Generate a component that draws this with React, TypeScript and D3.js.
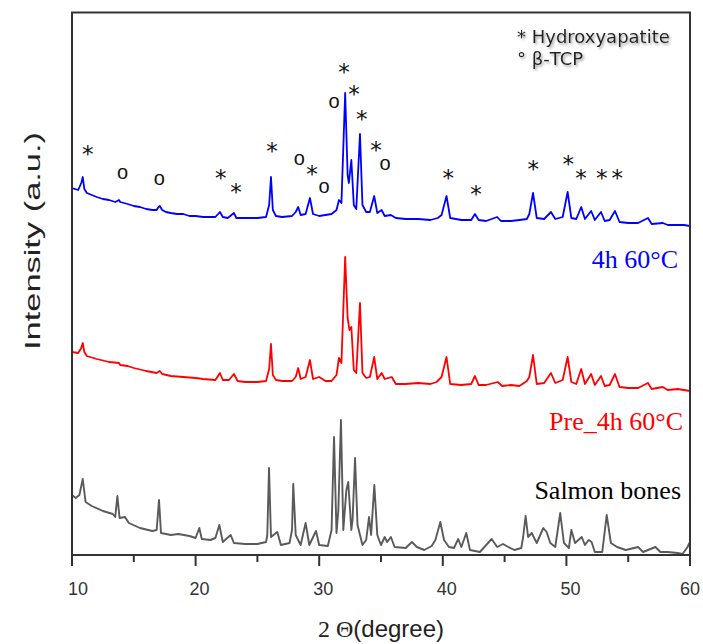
import React from "react";
import * as d3 from "d3";

// ---- data (2θ in degrees, intensity in a.u.) ----
const blueX = [10.0,10.5,10.75,10.87,11.0,11.2,11.6,12.0,12.5,13.0,13.5,13.8,13.9,14.5,15.0,15.5,16.0,16.5,16.85,17.0,17.1,17.3,17.6,18.0,18.5,19.0,19.5,20.0,20.6,21.0,21.6,21.97,22.2,22.6,23.1,23.3,24.0,25.0,25.7,25.95,26.1,26.25,26.5,27.0,27.8,28.1,28.3,28.5,28.9,29.25,29.5,30.0,30.5,31.0,31.4,31.6,31.8,32.1,32.3,32.4,32.6,32.8,33.0,33.3,33.5,33.8,34.1,34.45,34.7,35.05,35.3,35.8,36.2,37.0,38.0,39.0,39.6,39.9,40.3,40.6,41.5,42.3,42.6,42.9,43.5,44.4,44.7,45.5,46.2,46.8,47.0,47.3,47.6,48.2,48.75,49.1,49.7,50.1,50.4,50.8,51.2,51.5,52.0,52.3,52.8,53.1,53.5,53.93,54.3,55.0,55.8,56.6,56.9,57.8,58.2,59.0,59.5,60.0];
const blueY = [367,365,372,378,366,362,360,358,356,355,353,355,353,351,349,348,346,345,345,348,349,345,343,342,341,341,339,339,338,338,338,343,338,337,342,337,337,337,338,350,378,345,339,338,339,343,348,340,341,357,341,339,340,341,345,355,352,462,380,372,395,350,346,421,350,343,343,359,342,345,339,340,337,336,336,335,337,340,359,337,335,335,341,335,334,338,334,334,335,336,341,362,337,336,343,336,338,363,337,336,348,336,344,335,343,334,335,344,333,332,332,337,331,332,330,330,330,329];

const redX = [10.0,10.5,10.75,10.87,11.0,11.2,12.0,13.0,13.8,13.9,14.5,15.0,16.0,16.85,17.1,17.3,18.0,19.0,20.0,20.6,21.6,21.97,22.2,22.7,23.1,23.4,24.0,25.0,25.7,25.95,26.1,26.25,26.5,27.0,27.8,28.1,28.3,28.5,28.9,29.25,29.5,30.0,30.5,31.0,31.4,31.6,31.8,32.1,32.3,32.45,32.6,32.8,33.0,33.3,33.5,33.8,34.1,34.45,34.7,35.05,35.3,35.87,36.2,37.0,38.0,39.0,39.5,39.9,40.3,40.6,41.5,42.3,42.6,42.9,43.5,44.45,44.8,45.5,46.2,46.8,47.0,47.3,47.6,48.2,48.75,49.1,49.7,50.1,50.4,50.8,51.2,51.5,52.0,52.3,52.8,53.1,53.5,53.93,54.3,55.0,55.8,56.6,56.9,57.8,58.2,59.0,59.5,60.0];
const redY = [203,202,207,212,203,199,196,193,192,190,189,187,184,182,184,181,179,178,177,176,175,182,175,175,181,174,173,173,174,186,211,180,175,174,174,178,187,176,178,195,176,178,174,174,180,197,192,298,237,225,228,185,182,252,182,177,178,198,176,182,176,178,171,171,172,171,173,178,198,171,170,171,179,170,170,173,169,170,169,174,178,200,171,172,182,172,175,198,173,171,186,171,181,170,179,169,170,181,168,167,167,172,166,168,165,166,165,164];

const grayX = [10.0,10.3,10.6,10.87,11.1,11.6,12.5,13.3,13.5,13.67,13.85,14.29,14.6,15.5,16.5,16.85,17.04,17.2,18.0,18.6,19.5,20.0,20.3,20.5,21.2,21.6,21.92,22.2,22.84,23.1,24.0,25.0,25.7,25.8,25.94,26.1,26.61,26.9,27.6,27.8,27.9,28.1,28.5,28.9,29.2,29.74,30.0,30.7,31.0,31.2,31.4,31.55,31.76,31.95,32.2,32.35,32.6,32.7,32.9,33.1,33.5,33.8,34.03,34.2,34.46,34.7,35.0,35.3,35.5,35.8,36.1,37.0,37.5,37.9,38.5,39.1,39.4,39.8,40.1,40.5,40.9,41.25,41.5,41.9,42.2,43.0,43.95,44.4,44.87,45.3,45.8,46.35,46.5,46.7,46.9,47.19,47.6,48.13,48.4,48.7,49.1,49.5,49.8,50.2,50.4,50.7,51.24,51.5,51.8,52.04,52.3,52.9,53.26,53.6,54.1,54.8,55.8,56.2,57.2,57.6,58.2,59.0,59.4,59.8,60.0];
const grayY = [60,57,60,76,53,49,44,41,38,59,37,38,32,27,24,25,55,22,20,21,19,17,27,16,15,17,30,13,20,12,11,11,13,20,87,18,23,10,12,25,71,20,10,32,10,24,10,9,25,118,22,45,135,25,65,73,25,35,97,30,10,15,38,20,70,20,10,18,13,18,8,7,13,8,5,9,15,33,15,8,7,16,8,22,5,3,16,8,11,8,5,7,18,39,18,22,12,27,23,12,8,42,12,7,25,12,18,10,15,13,3,3,40,12,8,5,8,3,8,3,3,2,1,8,13];

// peak markers: position (deg), height (a.u.), phase symbol
const markerX = [11.27,14.09,17.06,22.03,23.27,26.18,28.39,29.42,30.39,31.2,32.01,32.82,33.44,34.6,35.32,40.44,42.69,47.32,50.15,51.18,52.86,54.12];
const markerY = [406,382,376,382,368,409,396,386,368,453,488,466,441,410,391,382,366,391,396,382,382,382];
const markerS = ["*","o","o","*","*","*","o","*","o","o","*","*","*","*","o","*","*","*","*","*","*","*"];

const seriesNames = ["4h 60°C", "Pre_4h 60°C", "Salmon bones"];
const seriesColors = ["#0000ff", "#ff0000", "#000000"];
const majorTicks = [10, 20, 30, 40, 50, 60];
const minorTicks = [15, 25, 35, 45, 55];
const legendLines = ["* Hydroxyapatite", "° β-TCP"];

export default function App() {
  const W = 703, H = 644;
  const left = 72, right = 690, top = 12.5, bottom = 555;
  const x = d3.scaleLinear().domain([10, 60]).range([left, right]);
  const y = d3.scaleLinear().domain([0, 542.5]).range([bottom, top]);
  const line = d3.line<[number, number]>().x(d => x(d[0])).y(d => y(d[1]));

  const series = [
    { xs: blueX, ys: blueY, color: "#0000ff", w: 1.8 },
    { xs: redX, ys: redY, color: "#ff0000", w: 1.8 },
    { xs: grayX, ys: grayY, color: "#5a5a5a", w: 1.9 },
  ];

  const labelDx = (i: number) => (i === 0 ? 6 : i === majorTicks.length - 1 ? 0 : 4);

  return (
    <svg width={W} height={H} style={{ position: "absolute", left: 0, top: 0, background: "#fff" }}>
      <defs>
        <filter id="shadow" x="-10%" y="-30%" width="130%" height="180%">
          <feDropShadow dx="1.5" dy="1.8" stdDeviation="0.9" floodColor="#9a9a9a" floodOpacity="0.9" />
        </filter>
        <clipPath id="plotclip">
          <rect x={left} y={top} width={right - left} height={bottom - top} />
        </clipPath>
      </defs>

      <g clipPath="url(#plotclip)">
        {series.map((s, i) => (
          <path
            key={i}
            d={line(s.xs.map((v, k) => [v, s.ys[k]] as [number, number])) || ""}
            fill="none"
            stroke={s.color}
            strokeWidth={s.w}
            strokeLinejoin="round"
          />
        ))}
      </g>

      {/* frame */}
      <rect x={left} y={top} width={right - left} height={bottom - top} fill="none" stroke="#333" strokeWidth={2} />

      {/* ticks */}
      {majorTicks.map(t => (
        <line key={"M" + t} x1={x(t)} x2={x(t)} y1={bottom} y2={bottom + 11} stroke="#333" strokeWidth={2} />
      ))}
      {minorTicks.map(t => (
        <line key={"m" + t} x1={x(t)} x2={x(t)} y1={bottom} y2={bottom + 7} stroke="#333" strokeWidth={2} />
      ))}
      {majorTicks.map((t, i) => (
        <text key={"L" + t} x={x(t) + labelDx(i)} y={595} textAnchor="middle" fontFamily="Liberation Sans, Arial, sans-serif" fontSize={18} fill="#333">
          {t}
        </text>
      ))}

      {/* axis titles */}
      <text x={381} y={637} textAnchor="middle" fontSize={24} fill="#222">
        <tspan fontFamily="Liberation Serif, Times New Roman, serif">2 Θ</tspan>
        <tspan fontFamily="Liberation Sans, Arial, sans-serif">(degree)</tspan>
      </text>
      <text
        transform="translate(40,241) rotate(-90)"
        textAnchor="middle"
        fontFamily="Liberation Sans, Arial, sans-serif"
        fontSize={22}
        fill="#222"
        textLength={218}
        lengthAdjust="spacingAndGlyphs"
      >
        Intensity (a.u.)
      </text>

      {/* peak markers */}
      {markerX.map((mx, i) =>
        markerS[i] === "*" ? (
          <text key={"mk" + i} x={x(mx)} y={y(markerY[i]) + 13} textAnchor="middle" fontFamily="DejaVu Sans, sans-serif" fontSize={23} fill="#111">
            *
          </text>
        ) : (
          <text key={"mk" + i} x={x(mx)} y={y(markerY[i]) + 5.5} textAnchor="middle" fontFamily="Liberation Sans, Arial, sans-serif" fontSize={20} fill="#111">
            o
          </text>
        )
      )}

      {/* legend */}
      <g filter="url(#shadow)">
        {legendLines.map((t, i) => (
          <text key={"lg" + i} x={517} y={43 + i * 22} fontFamily="DejaVu Sans, sans-serif" fontSize={18} fill="#222">
            {t}
          </text>
        ))}
      </g>

      {/* series labels */}
      {seriesNames.map((n, i) => (
        <text
          key={"sn" + i}
          x={[678, 683, 681][i]}
          y={[268, 430, 499][i]}
          textAnchor="end"
          fontFamily="Liberation Serif, Times New Roman, serif"
          fontSize={26}
          fill={seriesColors[i]}
        >
          {n}
        </text>
      ))}
    </svg>
  );
}
